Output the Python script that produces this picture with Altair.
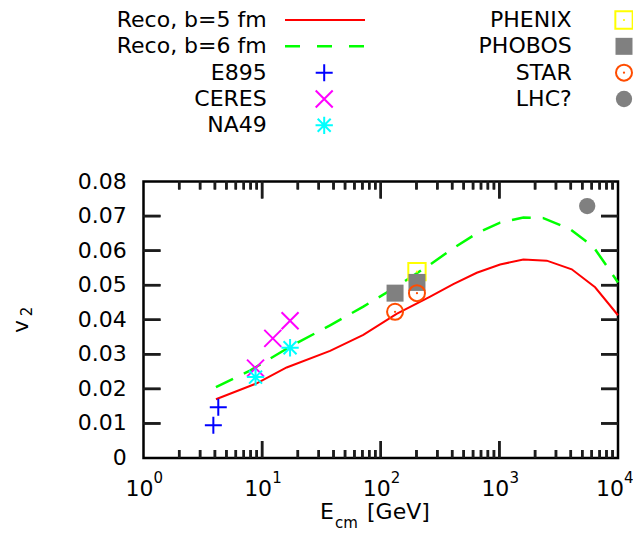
import altair as alt
import pandas as pd

# ---------------- data ----------------
reco5_E = [4.08, 9.0, 16.1, 37.4, 71.3, 136, 261, 409, 645, 1014, 1593, 2510, 4075, 6412, 10000]
reco5_v2 = [0.0170, 0.0216, 0.0262, 0.0310, 0.0356, 0.0417, 0.0467, 0.0503, 0.0536, 0.0560,
             0.0574, 0.0571, 0.0546, 0.0494, 0.0413]
reco6_E = [4.08, 7.9, 17.2, 37.4, 71.3, 136, 261, 409, 645, 1014, 1593, 2350, 3945, 6210, 9460, 10000]
reco6_v2 = [0.0205, 0.0253, 0.0322, 0.0384, 0.0438, 0.0496, 0.0560, 0.0607, 0.0650, 0.0681,
             0.0696, 0.0694, 0.0662, 0.0611, 0.0520, 0.0508]

e895_E = [3.88, 4.27]
e895_v2 = [0.0095, 0.0147]
ceres_E = [8.8, 12.3, 17.2]
ceres_v2 = [0.0260, 0.0346, 0.0397]
na49_E = [8.8, 17.2]
na49_v2 = [0.0234, 0.0319]
phenix_E = [202]
phenix_v2 = [0.0539]
phobos_E = [132, 202]
phobos_v2 = [0.0477, 0.0508]
star_E = [132, 202]
star_v2 = [0.0423, 0.0477]
lhc_E = [5500]
lhc_v2 = [0.0729]

legend_labels = ["Reco, b=5 fm", "Reco, b=6 fm", "E895", "CERES", "NA49",
                 "PHENIX", "PHOBOS", "STAR", "LHC?"]
legend_col = [0, 0, 0, 0, 0, 1, 1, 1, 1]
legend_row = [0, 1, 2, 3, 4, 0, 1, 2, 3]

y_label_vals = [0, 0.01, 0.02, 0.03, 0.04, 0.05, 0.06, 0.07, 0.08]
y_label_text = ["0", "0.01", "0.02", "0.03", "0.04", "0.05", "0.06", "0.07", "0.08"]
x_label_vals = [1, 10, 100, 1000, 10000]
x_label_base = ["10", "10", "10", "10", "10"]
x_label_exp = ["0", "1", "2", "3", "4"]
x_major = [10, 100, 1000]
x_minor = [m * 10 ** k for k in range(4) for m in range(2, 10)]
y_major = [0.01, 0.02, 0.03, 0.04, 0.05, 0.06, 0.07]

x_title_parts = ["E", "cm", "[GeV]"]
y_title_parts = ["v", "2"]

# ---------------- styles / layout ----------------
W, H = 474.5, 276.5
FONT = "DejaVu Sans"
FS = 22
FS_SMALL = 15
TICK_MAJ, TICK_MIN = 17, 8
TH = 2.5
TICK_COLOR = "#1c1c1c"
XMIN, XMAX = 1, 10000
YMIN, YMAX = 0, 0.08

# legend layout (pixels relative to plot origin)
LEG_ROW0, LEG_DROW = -161.5, 26.325
LEG_TEXT_X = [123.2, 428.2]
LEG_SYM_X = [180.7, 480.5]
LEG_LINE_X = (141.5, 221.5)

xscale = alt.Scale(type="log", domain=[XMIN, XMAX], nice=False)
yscale = alt.Scale(domain=[YMIN, YMAX], nice=False, zero=False)
X = alt.X("E:Q", scale=xscale, axis=None)
Y = alt.Y("v2:Q", scale=yscale, axis=None)


def y_at(px_from_bottom):
    return YMIN + (YMAX - YMIN) * px_from_bottom / H


def x_at(px_from_left):
    return XMIN * (XMAX / XMIN) ** (px_from_left / W)


PLUS = "M-1,0L1,0M0,-1L0,1"
CROSS = "M-1,-1L1,1M-1,1L1,-1"
STAR_SH = "M-1,0L1,0M0,-1L0,1M-0.75,-0.75L0.75,0.75M-0.75,0.75L0.75,-0.75"

point_styles = {
    "E895": [dict(shape=PLUS, filled=False, stroke="#0000FF", strokeWidth=2, size=289)],
    "CERES": [dict(shape=CROSS, filled=False, stroke="#FF00FF", strokeWidth=2, size=289)],
    "NA49": [dict(shape=STAR_SH, filled=False, stroke="#00FFFF", strokeWidth=2, size=300)],
    "PHENIX": [dict(shape="square", filled=False, stroke="#FFFF00", strokeWidth=2, size=300),
               dict(shape="circle", filled=True, fill="#FFFF00", strokeWidth=0, size=5)],
    "PHOBOS": [dict(shape="square", filled=True, fill="#808080", strokeWidth=0, size=289)],
    "STAR": [dict(shape="circle", filled=False, stroke="#FF4C00", strokeWidth=2, size=256),
             dict(shape="circle", filled=True, fill="#FF4C00", strokeWidth=0, size=5)],
    "LHC?": [dict(shape="circle", filled=True, fill="#808080", strokeWidth=0, size=266)],
}
line_styles = {
    "Reco, b=5 fm": dict(color="#FF0000", strokeWidth=2),
    "Reco, b=6 fm": dict(color="#00FF00", strokeWidth=2.5, strokeDash=[19, 12]),
}
legend_dash = {"Reco, b=6 fm": [15, 17]}

series_data = {
    "Reco, b=5 fm": (reco5_E, reco5_v2),
    "Reco, b=6 fm": (reco6_E, reco6_v2),
    "E895": (e895_E, e895_v2),
    "CERES": (ceres_E, ceres_v2),
    "NA49": (na49_E, na49_v2),
    "PHENIX": (phenix_E, phenix_v2),
    "PHOBOS": (phobos_E, phobos_v2),
    "STAR": (star_E, star_v2),
    "LHC?": (lhc_E, lhc_v2),
}

layers = []

# ---------------- inward ticks (gnuplot style, mirrored) ----------------
for vals, L in ((x_major, TICK_MAJ), (x_minor, TICK_MIN)):
    n = len(vals)
    w = (TH / 2) / (L / 2)
    vrect = f"M{-w},-1L{w},-1L{w},1L{-w},1Z"
    for a, b in ((0.0, float(L)), (H, H - L)):
        d = pd.DataFrame({"E": vals, "y0": [y_at(a)] * n, "y1": [y_at(b)] * n,
                          "v2": [y_at((a + b) / 2)] * n})
        layers.append(alt.Chart(d).mark_rule(color=TICK_COLOR, strokeWidth=TH)
                      .encode(x=X, y=alt.Y("y0:Q", scale=yscale, axis=None), y2=alt.Y2("y1")))
        layers.append(alt.Chart(d).mark_point(shape=vrect, filled=True, fill=TICK_COLOR, strokeWidth=0,
                                              size=L ** 2, opacity=1).encode(x=X, y=Y))

n = len(y_major)
L = TICK_MAJ
w = (TH / 2) / (L / 2)
hrect = f"M-1,{-w}L1,{-w}L1,{w}L-1,{w}Z"
for a, b in ((0.0, float(L)), (W, W - L)):
    d = pd.DataFrame({"v2": y_major, "x0": [x_at(a)] * n, "x1": [x_at(b)] * n,
                      "E": [x_at((a + b) / 2)] * n})
    layers.append(alt.Chart(d).mark_rule(color=TICK_COLOR, strokeWidth=TH)
                  .encode(y=Y, x=alt.X("x0:Q", scale=xscale, axis=None), x2=alt.X2("x1")))
    layers.append(alt.Chart(d).mark_point(shape=hrect, filled=True, fill=TICK_COLOR, strokeWidth=0,
                                          size=L ** 2, opacity=1).encode(x=X, y=Y))

# ---------------- data series ----------------
for name in legend_labels:
    E, v = series_data[name]
    df = pd.DataFrame({"E": E, "v2": v})
    if name in line_styles:
        layers.append(alt.Chart(df).mark_line(**line_styles[name]).encode(x=X, y=Y))
    else:
        for st in point_styles[name]:
            layers.append(alt.Chart(df).mark_point(opacity=1, **st).encode(x=X, y=Y))

# ---------------- tick labels ----------------
ylab = pd.DataFrame({"v2": y_label_vals, "t": y_label_text})
layers.append(alt.Chart(ylab).mark_text(align="right", baseline="middle", font=FONT, fontSize=FS, color="black")
              .encode(y=Y, x=alt.value(-16.8), text="t:N"))
xlab = pd.DataFrame({"E": x_label_vals, "b": x_label_base, "e": x_label_exp})
for d, shift in ((xlab.iloc[:-1], 0), (xlab.iloc[-1:], -4)):
    layers.append(alt.Chart(d).mark_text(align="right", baseline="alphabetic", dx=10 + shift, font=FONT,
                                         fontSize=FS, color="black").encode(x=X, y=alt.value(314.5), text="b:N"))
    layers.append(alt.Chart(d).mark_text(align="left", baseline="alphabetic", dx=10 + shift, font=FONT,
                                         fontSize=FS_SMALL, color="black").encode(x=X, y=alt.value(301.5), text="e:N"))

# ---------------- axis titles (with sub-scripts) ----------------
one = pd.DataFrame({"a": [0]})


def txt(s, x, y, size, angle=None, align="left"):
    kw = dict(align=align, baseline="alphabetic", font=FONT, fontSize=size, color="black")
    if angle is not None:
        kw["angle"] = angle
    return alt.Chart(one).mark_text(**kw).encode(x=alt.value(x), y=alt.value(y), text=alt.value(s))


layers += [
    txt(x_title_parts[0], 176.5, 337.5, FS),
    txt(x_title_parts[1], 191.5, 346, FS_SMALL),
    txt(x_title_parts[2], 223.5, 337.5, FS),
    txt(y_title_parts[0], -116, 145, FS, angle=270, align="center"),
    txt(y_title_parts[1], -112, 130, FS_SMALL, angle=270, align="center"),
]

# ---------------- legend (placed above the plot through the same scales) ----------------
leg = pd.DataFrame({"label": legend_labels, "col": legend_col, "row": legend_row})
leg["v2"] = [y_at(H - (LEG_ROW0 + r * LEG_DROW)) for r in legend_row]
leg["E"] = [x_at(LEG_TEXT_X[c]) for c in legend_col]
layers.append(alt.Chart(leg).mark_text(align="right", baseline="middle", font=FONT, fontSize=FS, color="black")
              .encode(x=X, y=Y, text="label:N"))

for name in legend_labels:
    d = leg[leg["label"] == name].copy()
    c = int(d["col"].iloc[0])
    if name in line_styles:
        st = dict(line_styles[name])
        if name in legend_dash:
            st["strokeDash"] = legend_dash[name]
        d["x0"] = x_at(LEG_LINE_X[0])
        d["x1"] = x_at(LEG_LINE_X[1])
        layers.append(alt.Chart(d).mark_rule(**st)
                      .encode(x=alt.X("x0:Q", scale=xscale, axis=None), x2=alt.X2("x1"), y=Y))
    else:
        d["E"] = x_at(LEG_SYM_X[c])
        for st in point_styles[name]:
            layers.append(alt.Chart(d).mark_point(opacity=1, **st).encode(x=X, y=Y))

chart = (
    alt.layer(*layers)
    .properties(
        width=W,
        height=H,
        autosize=alt.AutoSizeParams(type="none"),
        padding={"left": 135.5, "top": 173.5, "right": 15, "bottom": 73},
        background="white",
    )
    .configure_view(stroke="black", strokeWidth=2.5)
)

chart.save("out.html", embed_options={"renderer": "svg", "actions": False})
